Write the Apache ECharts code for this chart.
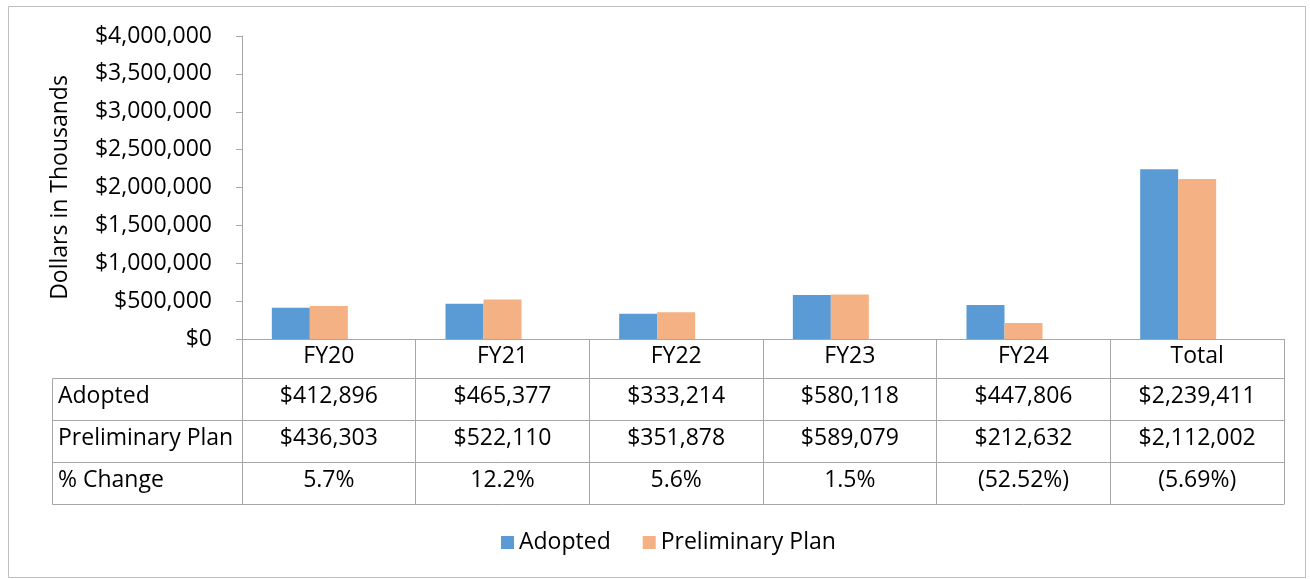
<!DOCTYPE html>
<html>
<head>
<meta charset="utf-8">
<script src="https://cdn.jsdelivr.net/npm/echarts@6/dist/echarts.min.js"></script>
<style>
  html, body { margin: 0; padding: 0; background: #fff; }
  #chart { width: 1310px; height: 579px; }
</style>
</head>
<body>
<div id="chart"></div>
<script>
var categories = ['FY20', 'FY21', 'FY22', 'FY23', 'FY24', 'Total'];
var adopted = [412896, 465377, 333214, 580118, 447806, 2239411];
var preliminary = [436303, 522110, 351878, 589079, 212632, 2112002];
var pctChange = ['5.7%', '12.2%', '5.6%', '1.5%', '(52.52%)', '(5.69%)'];
var rowNames = ['Adopted', 'Preliminary Plan', '% Change'];

var font = 'Open Sans';
var fontSize = 23;
var lineColor = '#a6a6a6';

var money = function (v) {
    return '$' + v.toLocaleString('en-US');
};

var chart = echarts.init(document.getElementById('chart'));

// one category axis per table row, stacked under the plot
var tableAxis = function (offset, labels, tickLen, margin) {
    return {
        type: 'category',
        data: categories,
        position: 'bottom',
        offset: offset,
        axisLine: { show: true, lineStyle: { color: lineColor, width: 1 } },
        axisTick: { show: tickLen > 0, length: tickLen, interval: 0, lineStyle: { color: lineColor } },
        axisLabel: {
            show: !!labels,
            interval: 0,
            margin: margin,
            color: '#000',
            fontFamily: font,
            fontSize: fontSize,
            formatter: function (v, i) { return labels ? labels[i] : ''; }
        }
    };
};

var option = {
    animation: false,
    grid: { left: 242, top: 36, width: 1042, height: 303 },
    legend: {
        bottom: 20,
        left: 496,
        itemWidth: 13,
        itemHeight: 13,
        itemGap: 32,
        icon: 'rect',
        textStyle: { color: '#000', fontFamily: font, fontSize: fontSize },
        data: ['Adopted', 'Preliminary Plan']
    },
    xAxis: [
        tableAxis(0, categories, 39, 6),
        tableAxis(39, adopted.map(money), 42, 7),
        tableAxis(81, preliminary.map(money), 42, 7),
        tableAxis(123, pctChange, 42, 7),
        tableAxis(165, null, 0, 0)
    ],
    yAxis: {
        type: 'value',
        min: 0,
        max: 4000000,
        interval: 500000,
        name: 'Dollars in Thousands',
        nameLocation: 'middle',
        nameGap: 170,
        nameTextStyle: { color: '#000', fontFamily: font, fontSize: fontSize },
        axisLine: { show: true, lineStyle: { color: lineColor } },
        axisTick: { show: true, length: 6, lineStyle: { color: lineColor } },
        splitLine: { show: false },
        axisLabel: {
            margin: 30,
            color: '#000',
            fontFamily: font,
            fontSize: fontSize,
            formatter: function (v) { return money(v); }
        }
    },
    series: [{
        name: 'Adopted',
        type: 'bar',
        data: adopted,
        barWidth: 38,
        barGap: '0%',
        itemStyle: { color: '#5b9bd5' }
    }, {
        name: 'Preliminary Plan',
        type: 'bar',
        data: preliminary,
        barWidth: 38,
        itemStyle: { color: '#f4b183' }
    }, {
        // empty slot for the % change row, as in the source workbook
        name: '% Change',
        type: 'bar',
        data: [],
        barWidth: 38
    }],
    graphic: [
        // outer frame
        { type: 'rect', shape: { x: 8.5, y: 6.5, width: 1297, height: 571 },
          style: { fill: 'none', stroke: '#bfbfbf', lineWidth: 1 }, silent: true },
        // row-label column of the data table
        { type: 'rect', shape: { x: 52.5, y: 378.5, width: 190, height: 126 },
          style: { fill: 'none', stroke: lineColor, lineWidth: 1 }, silent: true },
        { type: 'line', shape: { x1: 52, y1: 420.5, x2: 242, y2: 420.5 },
          style: { stroke: lineColor, lineWidth: 1 }, silent: true },
        { type: 'line', shape: { x1: 52, y1: 462.5, x2: 242, y2: 462.5 },
          style: { stroke: lineColor, lineWidth: 1 }, silent: true }
    ]
};

rowNames.forEach(function (name, i) {
    option.graphic.push({
        type: 'text',
        left: 58,
        top: 385 + i * 42,
        style: { text: name, fill: '#000', font: fontSize + 'px "' + font + '"' },
        silent: true
    });
});

chart.setOption(option);
</script>
</body>
</html>
